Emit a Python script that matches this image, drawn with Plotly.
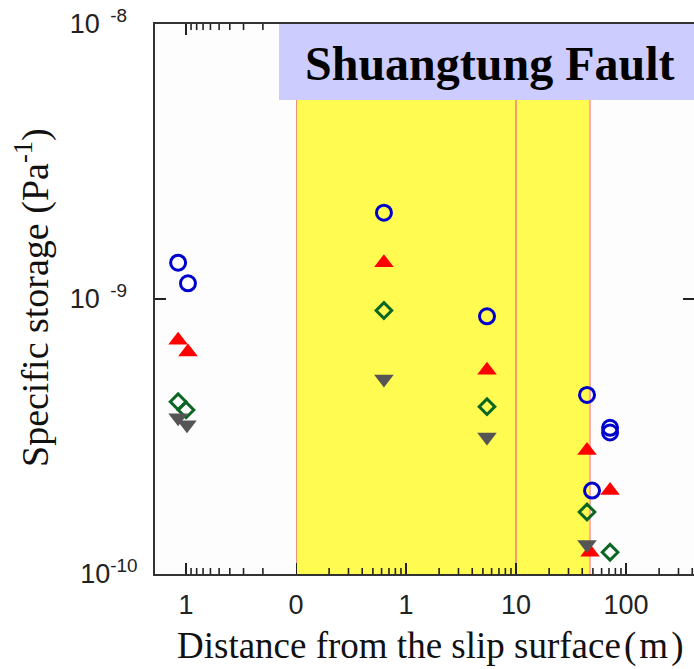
import plotly.graph_objects as go

# ---- data (distance in m, specific storage in Pa^-1) ----
# hanging-wall side (left, reversed log axis)
hw_circle_x = [1.18, 0.96]
hw_circle_y = [1.355e-9, 1.14e-9]
hw_tri_x = [1.18, 0.96]
hw_tri_y = [7.08e-10, 6.41e-10]
hw_dia_x = [1.18, 1.0]
hw_dia_y = [4.23e-10, 3.95e-10]
hw_down_x = [1.18, 0.98]
hw_down_y = [3.70e-10, 3.49e-10]

# footwall side (right, log axis)
fw_circle_x = [0.63, 5.45, 44.2, 49.1, 71.6, 71.6]
fw_circle_y = [2.06e-9, 8.65e-10, 4.48e-10, 2.01e-10, 3.40e-10, 3.27e-10]
fw_tri_x = [0.63, 5.45, 44.2, 71.6, 47.1]
fw_tri_y = [1.355e-9, 5.51e-10, 2.81e-10, 2.01e-10, 1.20e-10]
fw_dia_x = [0.63, 5.45, 44.2, 71.6]
fw_dia_y = [9.08e-10, 4.06e-10, 1.68e-10, 1.20e-10]
fw_down_x = [0.63, 5.45, 44.2]
fw_down_y = [5.12e-10, 3.15e-10, 1.28e-10]

zone_start, zone_mid, zone_end = 0.1, 10, 47
y_ticks = [1e-10, 1e-9, 1e-8]
y_ticktext = ["10<sup>-10</sup>",
              "10<sup>\u00a0\u00a0-9\u00a0\u00a0</sup>",
              "10<sup>\u00a0\u00a0-8\u00a0\u00a0</sup>"]
x_left_ticks, x_left_text = [1], ["1"]
x_right_ticks, x_right_text = [0.1, 1, 10, 100], ["0", "1", "10", "100"]
minor_left = [0.2, 0.3, 0.4, 0.5, 0.6, 0.7, 0.8, 0.9]
minor_right = ([m * 0.1 for m in range(2, 10)] + [m for m in range(2, 10)] +
               [m * 10 for m in range(2, 10)] + [m * 100 for m in range(2, 5)])

W, H = 694, 669
L, R, T, B = 155, 0, 24, 95
PW, PH = W - L - R, H - T - B
split = (296 - L) / PW

blue = "#0000CC"
red = "#FF0000"
green = "#0B6623"
gray = "#555555"
axcol = "#333333"

left_range = [0.282, -1.0]     # log10 units, reversed
right_range = [-1.0, 2.618]
y_range = [-10, -8]
px_per_decade_y = PH / (y_range[1] - y_range[0])
px_per_decade_x = (PW * (1 - split)) / (right_range[1] - right_range[0])

fig = go.Figure()

# --- tick marks as line traces (drawn from tick value lists) ---
def xticks(xa, vals, length, width):
    k = 10 ** (length / px_per_decade_y)
    xs, ys = [], []
    for v in vals:
        xs += [v, v, None, v, v, None]
        ys += [1e-10, 1e-10 * k, None, 1e-8, 1e-8 / k, None]
    fig.add_trace(go.Scatter(x=xs, y=ys, xaxis=xa, yaxis="y", mode="lines",
                             line=dict(color="#222222", width=width),
                             showlegend=False, hoverinfo="skip", cliponaxis=False))

xticks("x", x_left_ticks, 11, 2)
xticks("x", minor_left, 6, 1.6)
xticks("x2", x_right_ticks, 11, 2)
xticks("x2", minor_right, 6, 1.6)

k = 10 ** (11 / px_per_decade_x)
ytx_l, yty_l, ytx_r, yty_r = [], [], [], []
for v in y_ticks[1:-1]:
    ytx_l += [10 ** left_range[0], 10 ** left_range[0] / k, None]
    yty_l += [v, v, None]
    ytx_r += [10 ** right_range[1], 10 ** right_range[1] / k, None]
    yty_r += [v, v, None]
fig.add_trace(go.Scatter(x=ytx_l, y=yty_l, xaxis="x", yaxis="y", mode="lines",
                         line=dict(color="#222222", width=2), showlegend=False,
                         hoverinfo="skip", cliponaxis=False))
fig.add_trace(go.Scatter(x=ytx_r, y=yty_r, xaxis="x2", yaxis="y", mode="lines",
                         line=dict(color="#222222", width=2), showlegend=False,
                         hoverinfo="skip", cliponaxis=False))

def add_set(xs, ys, xa, symbol, color, size, lw=0):
    fig.add_trace(go.Scatter(
        x=xs, y=ys, xaxis=xa, yaxis="y", mode="markers", showlegend=False,
        marker=dict(symbol=symbol, color=color, size=size,
                    line=dict(color=color, width=lw))))

add_set(hw_circle_x, hw_circle_y, "x", "circle-open", blue, 15, 3)
add_set(hw_tri_x, hw_tri_y, "x", "triangle-up", red, 17)
add_set(hw_dia_x, hw_dia_y, "x", "diamond-open", green, 12, 3)
add_set(hw_down_x, hw_down_y, "x", "triangle-down", gray, 17)
add_set(fw_circle_x, fw_circle_y, "x2", "circle-open", blue, 15, 3)
add_set(fw_tri_x, fw_tri_y, "x2", "triangle-up", red, 17)
add_set(fw_dia_x, fw_dia_y, "x2", "diamond-open", green, 12, 3)
add_set(fw_down_x, fw_down_y, "x2", "triangle-down", gray, 17)

tickfont = dict(family="Liberation Sans, Arial", size=27, color="#222222")
base = dict(showline=True, linecolor=axcol, linewidth=2, mirror=True,
            ticks="", showgrid=False, zeroline=False, tickfont=tickfont)

fig.update_layout(
    width=W, height=H, margin=dict(l=L, r=R, t=T, b=B),
    paper_bgcolor="white", plot_bgcolor="#FDFDFD",
    xaxis=dict(type="log", domain=[0, split], range=left_range,
               tickmode="array", tickvals=x_left_ticks, ticktext=x_left_text,
               anchor="y", ticklabelstandoff=6, **base),
    xaxis2=dict(type="log", domain=[split, 1], range=right_range,
                tickmode="array", tickvals=x_right_ticks, ticktext=x_right_text,
                anchor="y", ticklabelstandoff=6, **base),
    yaxis=dict(type="log", range=y_range, tickmode="array", tickvals=y_ticks,
               ticktext=y_ticktext, showline=True, linecolor=axcol, linewidth=2,
               ticks="", showgrid=False, zeroline=False, tickfont=tickfont,
               ticklabelstandoff=10),
)

# yellow zone and boundary lines
fig.add_shape(type="rect", xref="x2", yref="paper", x0=zone_start, x1=zone_end, y0=0, y1=1,
              fillcolor="#FFFB50", line=dict(width=0), layer="below")
for xv, col in [(zone_start, "#F4907A"), (zone_mid, "#F0A070"), (zone_end, "#FFAAAA")]:
    fig.add_shape(type="line", xref="x2", yref="paper", x0=xv, x1=xv, y0=0, y1=1,
                  line=dict(color=col, width=2), layer="below")

# title box
fig.add_shape(type="rect", xref="paper", yref="paper",
              x0=(279 - L) / PW, x1=1.02, y0=(H - B - 100) / PH, y1=1.0,
              fillcolor="#CCCCFF", line=dict(width=0), layer="above")
fig.add_annotation(xref="paper", yref="paper", x=(490 - L) / PW,
                   y=(H - B - 63) / PH, text="<b>Shuangtung Fault</b>",
                   showarrow=False, xanchor="center", yanchor="middle",
                   font=dict(family="Liberation Serif, Times New Roman", size=48, color="black"))

# axis titles
fig.add_annotation(xref="paper", yref="paper", x=(430 - L) / PW, y=(H - B - 646) / PH,
                   text="Distance from the slip surface\u200a(\u200am\u200a)", showarrow=False,
                   xanchor="center", yanchor="middle",
                   font=dict(family="Liberation Serif, Times New Roman", size=37, color="#111111"))
fig.add_annotation(xref="paper", yref="paper", x=(32 - L) / PW, y=(H - B - 298) / PH,
                   text="Specific storage (Pa<sup>-1</sup>)", showarrow=False, textangle=-90,
                   xanchor="center", yanchor="middle",
                   font=dict(family="Liberation Serif, Times New Roman", size=38, color="#111111"))

fig.write_html("out.html")
